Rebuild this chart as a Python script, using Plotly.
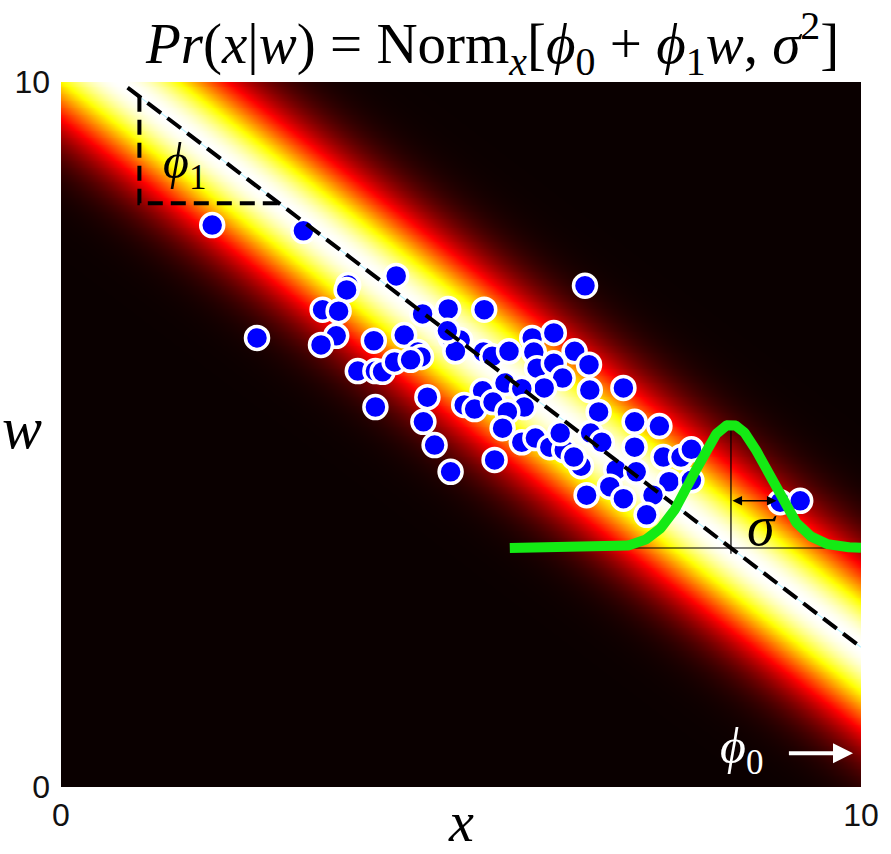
import numpy as np
import plotly.graph_objects as go

# ---- model parameters ----
phi0 = 12.29          # x-intercept of mean line at w = 0
phi1 = -1.155         # slope dx/dw
sigma_band = 0.95     # width of the heat band
w_line_top = 9.92     # where dashed line starts

# data points (x, w)
pts_x = [1.89, 3.03, 4.19, 3.59, 3.57, 3.27, 3.47, 4.52, 2.45, 3.44, 3.25, 3.91, 4.29,
         4.46, 4.50, 3.71, 3.93, 4.02, 4.17, 4.37, 3.93, 4.58, 4.53, 6.55, 4.84, 5.29,
         4.87, 4.99, 4.93, 5.28, 5.39, 5.60, 5.89, 6.16, 5.91, 6.42, 6.60, 5.95, 6.16,
         6.27, 6.04, 6.61, 7.03, 5.55, 5.27, 5.04, 5.17, 5.40, 5.76, 5.79, 5.58, 6.72,
         5.52, 5.76, 5.93, 6.11, 6.29, 6.24, 6.62, 6.76, 4.67, 5.42, 6.50, 6.94, 4.87,
         6.41, 7.17, 7.48, 7.17, 7.53, 7.75, 7.88, 7.19, 7.60, 7.88, 6.57, 6.86, 7.03,
         7.40, 7.32, 8.99, 9.24, 4.83]
pts_w = [7.97, 7.89, 7.25, 7.12, 7.05, 6.77, 6.75, 6.71, 6.37, 6.40, 6.27, 6.33, 6.41,
         6.17, 6.10, 5.90, 5.90, 5.89, 6.03, 6.06, 5.39, 5.53, 5.18, 7.11, 6.78, 6.77,
         6.38, 6.34, 6.18, 6.17, 6.11, 6.18, 6.37, 6.44, 6.17, 6.18, 5.99, 5.94, 6.01,
         5.80, 5.66, 5.63, 5.66, 5.73, 5.62, 5.42, 5.36, 5.46, 5.65, 5.39, 5.32, 5.32,
         5.09, 4.89, 4.95, 4.82, 4.78, 5.02, 5.02, 4.89, 4.85, 4.64, 4.55, 4.50, 4.47,
         4.68, 5.18, 5.12, 4.82, 4.68, 4.68, 4.79, 4.47, 4.33, 4.35, 4.14, 4.26, 4.09,
         4.14, 3.86, 4.04, 4.06, 6.47]

# slope triangle
tri_x = 0.98
tri_w = 8.28

# green conditional density illustration
w_base = 3.39
curve_amp = 1.75
sigma_curve = 0.46
curve_x_start = 5.61
sigma_arrow_len = 0.57
sigma_arrow_w = 4.06

axis_ticks = [0, 10]

# hot colormap
hot = [[0.0, "rgb(10,0,0)"], [0.365, "rgb(255,0,0)"],
       [0.746, "rgb(255,255,0)"], [1.0, "rgb(255,255,255)"]]

gx = np.linspace(0, 10, 401)
gw = np.linspace(0, 10, 401)
GX, GW = np.meshgrid(gx, gw)
Z = np.exp(-(GX - (phi0 + phi1 * GW)) ** 2 / (2 * sigma_band ** 2))

fig = go.Figure()
fig.add_trace(go.Heatmap(x=gx, y=gw, z=Z, colorscale=hot, zmin=0, zmax=1,
                         showscale=False, zsmooth="best", hoverinfo="skip"))

def line_x(w):
    return phi0 + phi1 * w

w_line_end = (10 - phi0) / phi1
lw = [w_line_top, w_line_end]
lx = [line_x(v) for v in lw]
fig.add_trace(go.Scatter(x=lx, y=lw, mode="lines",
                         line=dict(color="#bdf3ff", width=1.2), hoverinfo="skip"))

# slope triangle
w_tri_top = (tri_x - phi0) / phi1
x_tri_end = line_x(tri_w)
fig.add_trace(go.Scatter(x=[tri_x, tri_x, x_tri_end], y=[w_tri_top, tri_w, tri_w],
                         mode="lines", line=dict(color="black", width=4, dash="15px,8px"),
                         hoverinfo="skip"))

# scatter points
fig.add_trace(go.Scatter(x=pts_x, y=pts_w, mode="markers",
                         marker=dict(color="#0000ff", size=23,
                                     line=dict(color="white", width=3.5)),
                         hoverinfo="skip"))

# dashed mean line (on top of points)
fig.add_trace(go.Scatter(x=lx, y=lw, mode="lines",
                         line=dict(color="black", width=4, dash="17px,8px"),
                         hoverinfo="skip"))

# thin baseline & vertical marker for conditional density
mean_b = line_x(w_base)
fig.add_trace(go.Scatter(x=[curve_x_start, 10], y=[w_base, w_base], mode="lines",
                         line=dict(color="black", width=1.2), hoverinfo="skip"))
fig.add_trace(go.Scatter(x=[mean_b, mean_b], y=[w_base - 0.08, w_base + curve_amp],
                         mode="lines", line=dict(color="black", width=1.2), hoverinfo="skip"))

cx = np.linspace(curve_x_start, 10, 400)
cw = w_base + curve_amp * np.exp(-(cx - mean_b) ** 2 / (2 * sigma_curve ** 2))
fig.add_trace(go.Scatter(x=cx, y=cw, mode="lines",
                         line=dict(color="#14ea14", width=10), hoverinfo="skip"))

serif = "Liberation Serif, DejaVu Serif, serif"
sans = "Liberation Sans, Arial, sans-serif"

def px_x(p):
    return (p - 61) / 805

def px_y(p):
    return (787 - p) / 705

annotations = [
    dict(x=px_x(495), y=px_y(44), xref="paper", yref="paper", showarrow=False,
         xanchor="center", yanchor="middle",
         text="<i>Pr</i>(<i>x</i>|<i>w</i>) = Norm<sub><i>x</i></sub>[<i>ϕ</i><sub>0</sub> + <i>ϕ</i><sub>1</sub><i>w</i>, <i>σ</i><sup>2</sup>]",
         font=dict(family=serif, size=57, color="black")),
    dict(x=1.54, y=8.82, xref="x", yref="y", showarrow=False, xanchor="center", yanchor="middle",
         text="<i>ϕ</i><sub>1</sub>", font=dict(family=serif, size=50, color="black")),
    dict(x=8.50, y=0.52, xref="x", yref="y", showarrow=False, xanchor="center", yanchor="middle",
         text="<i>ϕ</i><sub>0</sub>", font=dict(family=serif, size=50, color="white")),
    dict(x=9.90, y=0.48, ax=9.08, ay=0.48, xref="x", yref="y", axref="x", ayref="y",
         showarrow=True, arrowhead=2, arrowsize=1, arrowwidth=4, arrowcolor="white", text=""),
    dict(x=mean_b + sigma_arrow_len, y=sigma_arrow_w, ax=mean_b, ay=sigma_arrow_w,
         xref="x", yref="y", axref="x", ayref="y", showarrow=True, arrowhead=2,
         startarrowhead=2, arrowside="end+start", arrowsize=1.2, arrowwidth=1.6,
         arrowcolor="black", text=""),
    dict(x=8.76, y=3.70, xref="x", yref="y", showarrow=False, xanchor="center", yanchor="middle",
         text="<i>σ</i>", font=dict(family=serif, size=56, color="black")),
    dict(x=px_x(22), y=px_y(428), xref="paper", yref="paper", showarrow=False,
         xanchor="center", yanchor="middle",
         text="<i>w</i>", font=dict(family=serif, size=60, color="black")),
    dict(x=px_x(463), y=px_y(822), xref="paper", yref="paper", showarrow=False,
         xanchor="center", yanchor="middle",
         text="<i>x</i>", font=dict(family=serif, size=56, color="black")),
]

fig.update_layout(
    width=891, height=854,
    margin=dict(l=61, r=25, t=82, b=67),
    paper_bgcolor="white", plot_bgcolor="black",
    showlegend=False,
    annotations=annotations,
)
fig.update_xaxes(range=[0, 10], tickvals=axis_ticks, ticktext=[str(t) for t in axis_ticks],
                 showgrid=False, zeroline=False, showline=False, ticks="",
                 tickfont=dict(family=sans, size=32, color="#111"), ticklabelstandoff=6)
fig.update_yaxes(range=[0, 10], tickvals=axis_ticks, ticktext=[str(t) for t in axis_ticks],
                 showgrid=False, zeroline=False, showline=False, ticks="",
                 tickfont=dict(family=sans, size=32, color="#111"), ticklabelstandoff=10)

fig.write_html("out.html", config={"displayModeBar": False},
               post_script="document.body.style.margin='0';")
